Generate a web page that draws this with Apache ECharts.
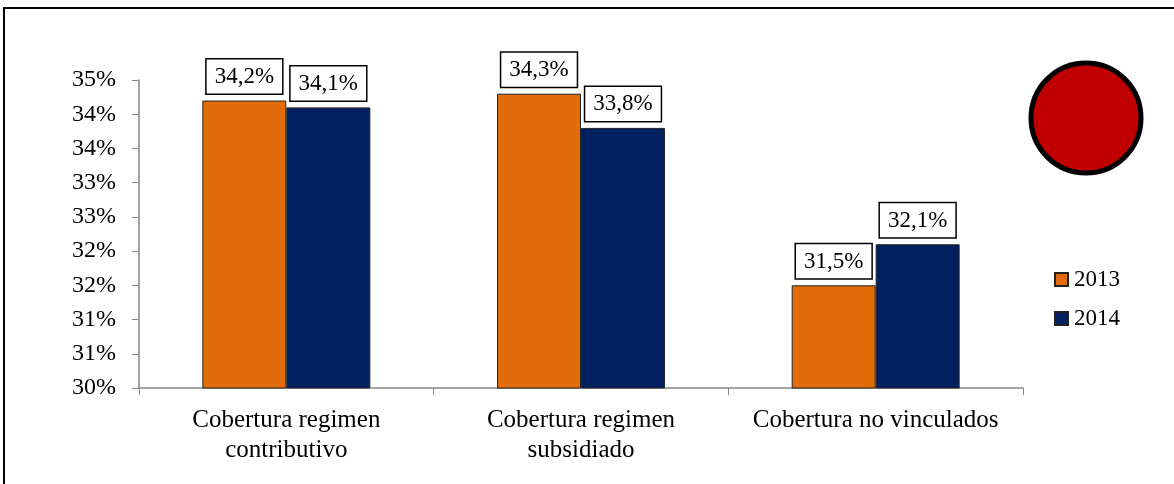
<!DOCTYPE html>
<html>
<head>
<meta charset="utf-8">
<script src="https://cdn.jsdelivr.net/npm/echarts@6/dist/echarts.min.js"></script>
<style>
html,body{margin:0;padding:0;background:#fff;}
#c{width:1174px;height:484px;}
</style>
</head>
<body>
<div id="c"></div>
<script>
const categories = ['Cobertura regimen\ncontributivo', 'Cobertura regimen\nsubsidiado', 'Cobertura no vinculados'];
const seriesNames = ['2013', '2014'];
const values2013 = [34.2, 34.3, 31.5];
const values2014 = [34.1, 33.8, 32.1];

const FONT = '"Liberation Serif", "Times New Roman", serif';
const chart = echarts.init(document.getElementById('c'), null, {renderer: 'canvas'});

function fmtLabel(p) {
  return p.value.toFixed(1).replace('.', ',') + '%';
}
const labelCfg = {
  show: true,
  position: 'top',
  distance: 7,
  formatter: fmtLabel,
  fontFamily: FONT,
  fontSize: 23,
  lineHeight: 23,
  color: '#000',
  backgroundColor: '#fff',
  borderColor: '#000',
  borderWidth: 1.5,
  padding: [6, 8, 5, 8]
};

chart.setOption({
  animation: false,
  backgroundColor: '#fff',
  grid: {left: 139, right: 151, top: 80, bottom: 96, containLabel: false},
  legend: {
    orient: 'vertical',
    left: 1049,
    top: 263,
    itemWidth: 13,
    itemHeight: 13,
    itemGap: 16,
    icon: 'rect',
    textStyle: {fontFamily: FONT, fontSize: 23, lineHeight: 23, color: '#000', padding: [0, 0, 0, 1]},
    data: seriesNames
  },
  xAxis: {
    type: 'category',
    data: categories,
    axisLine: {lineStyle: {color: '#868686', width: 1.5}},
    axisTick: {show: true, length: 7, lineStyle: {color: '#868686'}},
    axisLabel: {interval: 0, hideOverlap: false, fontFamily: FONT, fontSize: 25, color: '#000', lineHeight: 30, margin: 17}
  },
  yAxis: {
    type: 'value',
    min: 30,
    max: 34.5,
    interval: 0.5,
    splitLine: {show: false},
    axisLine: {show: true, lineStyle: {color: '#868686', width: 1.5}},
    axisTick: {show: true, length: 7, lineStyle: {color: '#868686'}},
    axisLabel: {
      fontFamily: FONT, fontSize: 24, color: '#000', margin: 23,
      formatter: function (v) { return Math.round(v) + '%'; }
    }
  },
  series: [
    {
      name: seriesNames[0], type: 'bar', data: values2013,
      barGap: '0%', barCategoryGap: '43%',
      itemStyle: {color: '#E36C0A', borderColor: '#222', borderWidth: 1},
      label: labelCfg
    },
    {
      name: seriesNames[1], type: 'bar', data: values2014,
      barGap: '0%', barCategoryGap: '43%',
      itemStyle: {color: '#002060', borderColor: '#222', borderWidth: 1},
      label: labelCfg
    }
  ],
  graphic: [
    {
      type: 'rect', silent: true,
      shape: {x: 4, y: 8, width: 1300, height: 600},
      style: {fill: 'none', stroke: '#000', lineWidth: 2}
    },
    {
      type: 'circle', silent: true,
      shape: {cx: 1086, cy: 118, r: 55},
      style: {fill: '#C00000', stroke: '#000', lineWidth: 5}
    }
  ]
});
</script>
</body>
</html>
